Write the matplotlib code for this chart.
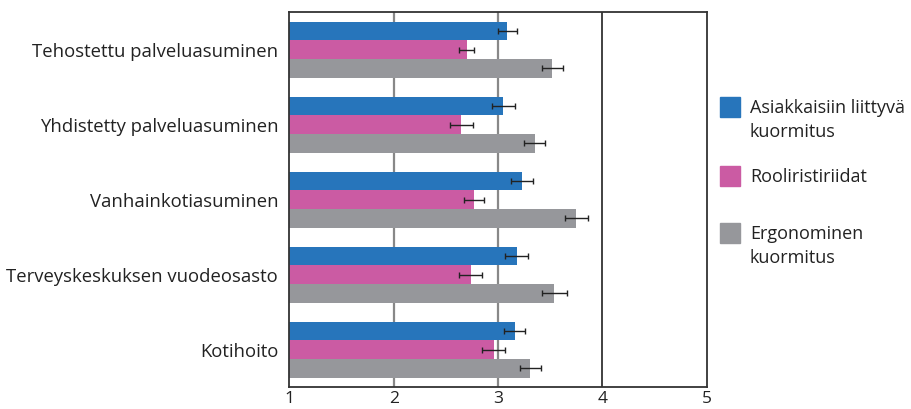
import matplotlib
matplotlib.use("Agg")
import matplotlib.pyplot as plt
from matplotlib.patches import Rectangle
import numpy as np

plt.rcParams['font.family'] = ['Open Sans', 'DejaVu Sans']

categories = [
    "Tehostettu palveluasuminen",
    "Yhdistetty palveluasuminen",
    "Vanhainkotiasuminen",
    "Terveyskeskuksen vuodeosasto",
    "Kotihoito",
]
series_names = ["Asiakkaisiin liittyvä\nkuormitus", "Rooliristiriidat", "Ergonominen\nkuormitus"]
series_colors = ["#2775bb", "#cb5ba3", "#96979b"]

client_load = [3.09, 3.05, 3.23, 3.18, 3.16]
role_conflict = [2.70, 2.65, 2.77, 2.74, 2.96]
ergonomic_load = [3.52, 3.35, 3.75, 3.54, 3.31]

client_err = [0.09, 0.11, 0.11, 0.11, 0.10]
role_err = [0.07, 0.11, 0.10, 0.11, 0.11]
ergonomic_err = [0.10, 0.10, 0.11, 0.12, 0.10]

x_ticks = [1, 2, 3, 4, 5]

values = [client_load, role_conflict, ergonomic_load]
errors = [client_err, role_err, ergonomic_err]

W, H = 912, 409
fig = plt.figure(figsize=(W / 100, H / 100), dpi=100)
ax = fig.add_axes([289.3 / W, 1 - 387.3 / H, (706.7 - 289.3) / W, (387.3 - 12.3) / H])

n = len(categories)
y = np.arange(n)
bar_h = 0.249
for i, (vals, errs, col) in enumerate(zip(values, errors, series_colors)):
    pos = y + (i - 1) * bar_h
    v = np.array(vals)
    ax.barh(pos, v - 1, left=1, height=bar_h, color=col, zorder=2)
    ax.errorbar(v, pos, xerr=errs, fmt='none', ecolor='#222222',
                elinewidth=1.0, capsize=2.5, capthick=1.0, zorder=3)

ax.set_xlim(1, 5)
ax.set_ylim(n - 0.5, -0.5)
ax.set_xticks(x_ticks)
ax.set_xticklabels([str(t) for t in x_ticks], fontsize=12.5, color='#222222')
ax.set_yticks(y)
ax.set_yticklabels(categories, fontsize=13.3, color='#222222')
ax.tick_params(axis='both', length=0)
ax.tick_params(axis='y', pad=8)
ax.tick_params(axis='x', pad=3)

for gx in [2, 3]:
    ax.axvline(gx, color='#888888', lw=1.6, zorder=1)
ax.axvline(4, color='#333333', lw=1.3, zorder=1)

for s in ax.spines.values():
    s.set_color('#333333')
    s.set_linewidth(1.3)

# Legend drawn in figure pixel coordinates; each label line placed on its own baseline
legend_tops = [96.7, 166.0, 222.7]
line_step = 24.0
for name, col, top in zip(series_names, series_colors, legend_tops):
    fig.add_artist(Rectangle((720 / W, 1 - (top + 20) / H), 20 / W, 20 / H,
                             transform=fig.transFigure, color=col))
    for k, line in enumerate(name.split("\n")):
        base = top + 10 + 6.2 + k * line_step
        fig.text(750 / W, 1 - base / H, line, fontsize=13, color='#222222',
                 va='baseline', ha='left', transform=fig.transFigure)

fig.savefig("out.png", dpi=100)
